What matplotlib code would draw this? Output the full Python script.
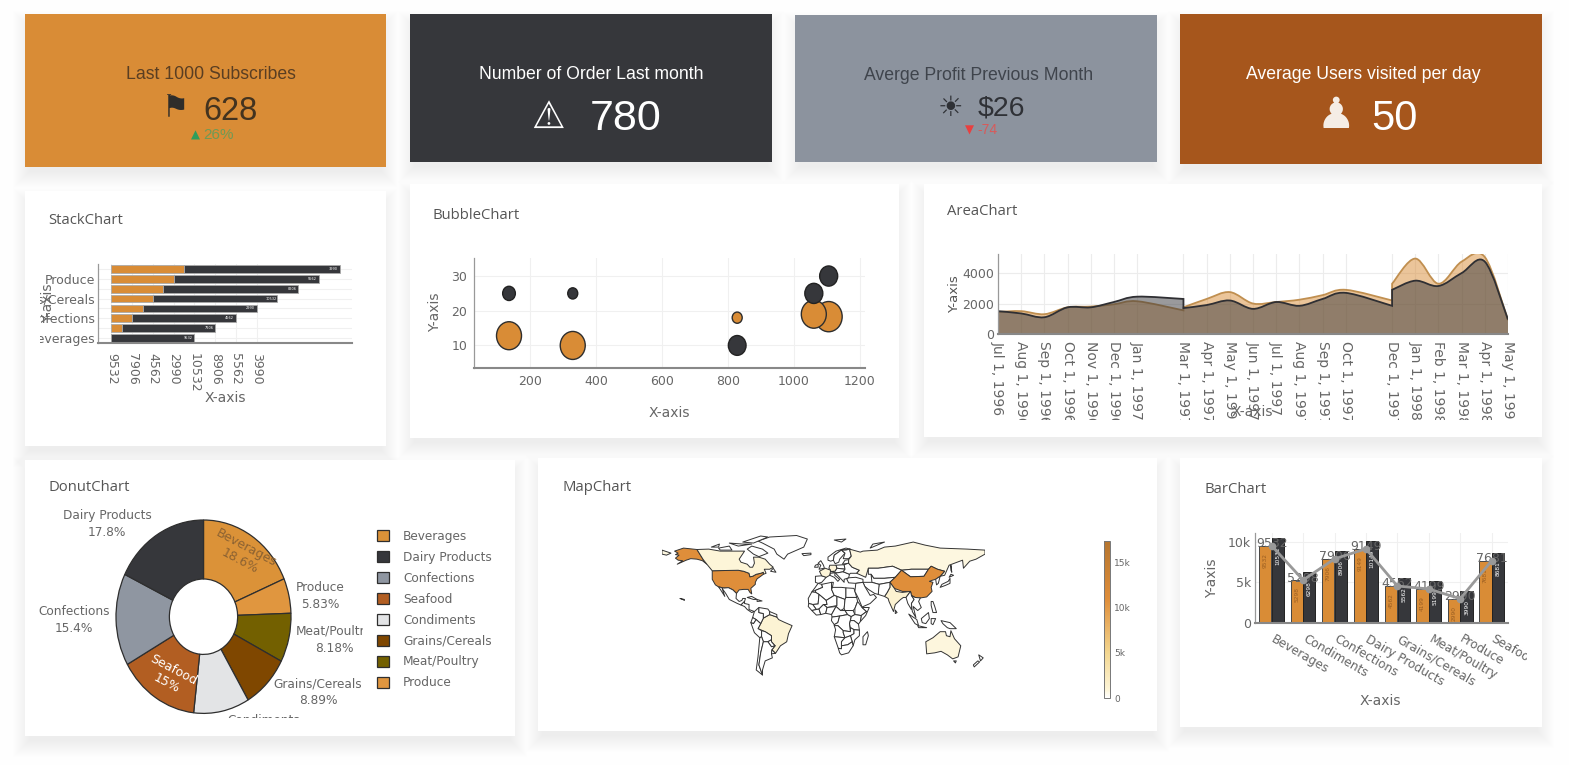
#!/usr/bin/python
import numpy as np
from matplotlib import pyplot as plt
from matplotlib.collections import PolyCollection
from matplotlib.colors import LinearSegmentedColormap, Normalize
from matplotlib.markers import MarkerStyle
from matplotlib.patches import PathPatch, Rectangle
from matplotlib.path import Path
from matplotlib.transforms import Affine2D, Bbox, ScaledTranslation

W, H = 1569, 765
ORANGE = '#D98C36'
DARK = '#36373B'
GRAY = '#8C939E'
RUST = '#A6561C'
TXT = '#666666'

plt.rcParams['font.family'] = ['DejaVu Sans']

#Stack chart
stack_categories = ['Beverages', '', 'Confections', '', 'Grains/Cereals', '', 'Produce', '']
stack_tick_labels = ['9532', '7906', '4562', '2990', '10532', '8906', '5562', '3990']
stack_orange = [0, 0.5, 1, 1.5, 2, 2.5, 3, 3.5]
stack_dark = [4, 4.5, 5, 5.5, 6, 6.5, 7, 7.5]

#Bubble chart
bubble_x = [137, 330, 828, 1105, 1060]
bubble_orange_y = [12.8, 10, 18, 18.3, 19]
bubble_orange_d = [25, 25, 10, 27, 25]
bubble_dark_y = [25, 25, 10, 30, 25]
bubble_dark_d = [12.7, 10, 17.7, 18, 18]

#Area chart, a repeated month is a step in the series
area_months = ['Jul 1, 1996', 'Aug 1, 1996', 'Sep 1, 1996', 'Oct 1, 1996', 'Nov 1, 1996', 'Dec 1, 1996',
               'Jan 1, 1997', '', 'Mar 1, 1997', 'Apr 1, 1997', 'May 1, 1997', 'Jun 1, 1997', 'Jul 1, 1997',
               'Aug 1, 1997', 'Sep 1, 1997', 'Oct 1, 1997', '', 'Dec 1, 1997', 'Jan 1, 1998', 'Feb 1, 1998',
               'Mar 1, 1998', 'Apr 1, 1998', 'May 1, 1998']
area_x = [0, 1, 2, 3, 4, 5, 6, 8, 8, 9, 10, 11, 12, 13, 14, 15, 17, 17, 18, 19, 20, 21, 22]
area_orange = [1450, 1500, 1300, 1750, 1800, 1950, 2150, 1550, 1750, 2300, 2750, 2000, 2100, 2250, 2550, 2900,
               2200, 3300, 4950, 3300, 4750, 5050, 900]
area_dark = [1500, 1350, 1100, 1750, 1750, 2100, 2450, 2300, 1700, 1900, 2200, 1650, 2100, 1850, 2300, 2700,
             1850, 2900, 3500, 3150, 4000, 4750, 950]

#Donut chart
donut_labels = ['Beverages', 'Produce', 'Meat/Poultry', 'Grains/Cereals', 'Condiments', 'Seafood', 'Confections',
                'Dairy Products']
donut_values = [18.6, 5.83, 8.18, 8.89, 10.3, 15.0, 15.4, 17.8]
donut_colors = ['#DB9238', '#E0963F', '#736000', '#7F4700', '#E3E4E6', '#B25E22', '#8F96A1', '#36373B']
legend_order = ['Beverages', 'Dairy Products', 'Confections', 'Seafood', 'Condiments', 'Grains/Cereals',
                'Meat/Poultry', 'Produce']

#Bar chart
bar_categories = ['Beverages', 'Condiments', 'Confections', 'Dairy Products', 'Grains/Cereals', 'Meat/Poultry',
                  'Produce', 'Seafood']
bar_orange = [9532, 5298, 7906, 9149, 4562, 4199, 2990, 7681]
bar_dark = [10532, 6298, 8906, 10149, 5562, 5199, 3990, 8681]

#Map chart, rough outlines in lon/lat
map_values = {'USA': 11000, 'Alaska': 11000, 'China': 11000, 'Canada': 900, 'Russia': 700, 'Chukotka': 700,
              'Brazil': 1100, 'Australia': 800, 'India': 1300, 'France': 900, 'Germany': 1000}
map_shapes = {
    'USA': [(-124, 48.5), (-95, 49), (-89, 48), (-83, 46), (-82, 42.5), (-79, 43), (-75, 45), (-70, 46), (-67, 47),
            (-67, 45), (-70, 43), (-74, 40.5), (-76, 37), (-76, 35), (-81, 31), (-80, 25.5), (-82, 27), (-84, 30),
            (-89, 30), (-94, 29.5), (-97, 26), (-101, 29.5), (-106, 31.7), (-111, 31.3), (-117, 32.5),
            (-120.5, 34.5), (-124, 40)],
    'Alaska': [(-141, 69.6), (-156, 71), (-166, 68), (-162, 66), (-165, 64.5), (-161, 64), (-165, 61), (-162, 59),
               (-157, 58.5), (-163, 55), (-153, 59), (-148, 60.5), (-141, 60), (-135, 58.5), (-130, 55),
               (-134, 59.5)],
    'Canada': [(-141, 69.6), (-128, 70), (-115, 68), (-95, 68), (-88, 68), (-94, 60), (-92, 57), (-85, 55), (-82, 52),
               (-79, 52), (-77, 56), (-78, 62), (-72, 62), (-65, 60), (-60, 55), (-56, 52), (-60, 50), (-66, 50),
               (-64, 46), (-67, 45), (-67, 47), (-70, 46), (-75, 45), (-79, 43), (-82, 42.5), (-83, 46), (-89, 48),
               (-95, 49), (-124, 48.5), (-130, 55), (-134, 59.5)],
    'Greenland': [(-73, 78), (-60, 82), (-30, 83.5), (-18, 80), (-22, 72), (-40, 65), (-44, 60), (-52, 65), (-55, 70),
                  (-68, 76)],
    'Baffin': [(-80, 73), (-68, 70), (-62, 66), (-72, 62.5), (-78, 65), (-85, 70)],
    'Victoria': [(-117, 71), (-105, 73), (-102, 69), (-115, 69)],
    'Ellesmere': [(-90, 77), (-70, 83), (-62, 82), (-78, 76)],
    'Banks': [(-125, 72), (-116, 75), (-117, 72)],
    'Devon': [(-105, 76), (-90, 75), (-80, 75), (-95, 73)],
    'Newfoundland': [(-59, 48), (-53, 47), (-56, 51)],
    'Hawaii': [(-160, 21), (-155, 20), (-155, 19), (-157, 20)],
    'Mexico': [(-117, 32.5), (-111, 31.3), (-106, 31.7), (-101, 29.5), (-97, 26), (-97.5, 21), (-94, 18), (-91, 19),
               (-90, 21), (-87, 21), (-88, 18), (-92, 14.5), (-96, 16), (-105, 20), (-109, 26), (-113, 31), (-110, 23),
               (-115, 30)],
    'Central': [(-92, 14.5), (-88, 18), (-88, 16), (-83, 15), (-83, 10), (-77, 8), (-80, 7), (-85, 10), (-88, 13)],
    'Cuba': [(-85, 22), (-80, 23), (-74, 20), (-78, 20)],
    'Hispaniola': [(-74, 20), (-68.5, 18.5), (-74, 18)],
    'Brazil': [(-60, 5), (-52, 2.5), (-50, 0), (-44, -2.5), (-35, -6), (-39, -14), (-41, -22), (-48, -26),
               (-53.5, -33.5), (-57.5, -30), (-54, -26), (-58, -22), (-58, -16), (-65, -12), (-73, -9), (-70, -4),
               (-67, 1.5)],
    'Colombia': [(-77, 8), (-72, 12), (-72, 7), (-67, 6), (-67, 1.5), (-70, -4), (-75, 0), (-79, 2)],
    'Venezuela': [(-72, 12), (-62, 10.5), (-60, 8), (-60, 5), (-67, 1.5), (-67, 6), (-72, 7)],
    'Guyanas': [(-60, 8), (-52, 5), (-52, 2.5), (-60, 5)],
    'Ecuador': [(-79, 2), (-75, 0), (-78, -4), (-81, -3)],
    'Peru': [(-81, -3), (-78, -4), (-75, 0), (-70, -4), (-73, -9), (-69, -11), (-69, -17), (-71, -18), (-77, -13)],
    'Bolivia': [(-69, -11), (-65, -12), (-58, -16), (-58, -20), (-62, -22), (-67, -22), (-69, -17)],
    'Paraguay': [(-62, -22), (-58, -20), (-58, -22), (-54, -26), (-58, -27)],
    'Chile': [(-71, -18), (-69, -17), (-67, -22), (-70, -33), (-72, -45), (-68, -55), (-75, -50), (-73, -37)],
    'Argentina': [(-67, -22), (-62, -22), (-58, -27), (-54, -26), (-57.5, -30), (-58, -34), (-57, -38), (-65, -41),
                  (-68, -50), (-68, -55), (-72, -45), (-70, -33)],
    'Uruguay': [(-57.5, -30), (-53.5, -33.5), (-58, -34)],
    'Morocco': [(-6, 36), (-2, 35), (-1, 32), (-9, 29), (-13, 27.5), (-10, 31)],
    'Algeria': [(-2, 35), (9, 37), (9, 30), (12, 24), (3, 19), (-5, 25), (-8.7, 27), (-9, 29), (-1, 32)],
    'Tunisia': [(9, 37), (11, 37), (10, 32), (9, 30)],
    'Libya': [(10, 32), (20, 32), (25, 31.5), (25, 20), (24, 20), (15, 23), (12, 24), (9, 30)],
    'Egypt': [(25, 31.5), (34, 31), (37, 22), (25, 22)],
    'Mauritania': [(-17, 21), (-13, 27.5), (-8.7, 27), (-5, 25), (-6, 15.5), (-12, 15), (-16.5, 16)],
    'Mali': [(-5, 25), (3, 19), (4, 15), (0, 15), (-5, 10.5), (-8, 10), (-12, 15), (-6, 15.5)],
    'Niger': [(3, 19), (12, 24), (15, 23), (15, 14), (4, 12), (0, 15), (4, 15)],
    'Chad': [(15, 23), (24, 20), (23, 11), (19, 9), (14, 13), (15, 14)],
    'Sudan': [(24, 20), (25, 22), (37, 22), (38, 18), (35, 11), (33, 9), (24, 9), (23, 11)],
    'Senegal': [(-16.5, 16), (-12, 15), (-8, 10), (-13, 9), (-17, 13)],
    'Ivory': [(-13, 9), (-8, 10), (-5, 10.5), (-3, 5), (-8, 4.5)],
    'Ghana': [(-5, 10.5), (0, 15), (4, 12), (2.5, 6.3), (-3, 5)],
    'Nigeria': [(4, 12), (14, 13), (9, 5), (2.5, 6.3)],
    'Cameroon': [(14, 13), (19, 9), (24, 9), (27, 5), (18, 3.5), (9.5, 2.5), (9, 5)],
    'Gabon': [(9.5, 2.5), (18, 3.5), (16, -3), (12, -5), (8.8, -1)],
    'DRC': [(18, 3.5), (27, 5), (31, 3), (29, -4), (30, -12), (22, -11), (16, -6), (12, -6), (12, -5), (16, -3)],
    'Ethiopia': [(35, 11), (38, 18), (43, 12), (48, 8), (42, 4), (35, 5)],
    'Somalia': [(43, 12), (51, 12), (47, 4), (41, -2), (42, 4), (48, 8)],
    'SSudan': [(24, 9), (33, 9), (35, 5), (31, 3), (27, 5)],
    'Kenya': [(31, 3), (35, 5), (42, 4), (41, -2), (39, -4.5), (34, -1), (30, -1)],
    'Tanzania': [(30, -1), (34, -1), (39, -4.5), (40, -10.5), (34, -10), (30, -8), (29, -4)],
    'Angola': [(12, -6), (16, -6), (22, -11), (22, -13), (24, -18), (12, -17), (13.5, -10)],
    'Zambia': [(22, -11), (30, -12), (30, -8), (34, -10), (34, -14), (30, -16), (24, -18), (22, -13)],
    'Mozambique': [(40, -10.5), (40, -16), (35, -20), (33, -26), (32, -22), (30, -16), (34, -14), (34, -10)],
    'Namibia': [(12, -17), (24, -18), (20, -22), (20, -29), (16.5, -28.5)],
    'Botswana': [(24, -18), (30, -16), (32, -22), (27, -25), (20, -26), (20, -22)],
    'SAfrica': [(16.5, -28.5), (20, -29), (20, -26), (27, -25), (32, -22), (33, -26), (28, -33), (20, -35), (18, -33)],
    'Madagascar': [(49, -12), (50, -16), (47, -25), (44, -25), (44, -17)],
    'Iberia': [(-9, 43), (-2, 43.5), (3, 42), (0, 39), (-2, 37), (-6, 36), (-9, 37)],
    'France': [(-2, 43.5), (-4.5, 48), (2, 51), (8, 49), (7, 44), (3, 42)],
    'Germany': [(6, 51), (7, 54), (14, 54), (15, 51), (13, 48), (8, 47.7), (8, 49)],
    'Italy': [(7, 44), (8, 46), (13, 46.5), (12.5, 44), (18, 40), (16, 38), (12, 42)],
    'UK': [(-5, 50), (1, 51), (0, 54), (-3, 58.5), (-6, 56), (-3, 54)],
    'Ireland': [(-10, 52), (-6, 52), (-6, 55), (-9, 54)],
    'Norway': [(5, 59), (8, 58), (11, 59), (12, 64), (20, 69), (30, 70), (25, 71), (14, 68), (5, 62)],
    'Sweden': [(11, 59), (13, 55.5), (17, 57), (18, 60), (24, 66), (20, 69), (12, 64)],
    'Finland': [(24, 66), (22, 60.5), (28, 60.5), (31, 63), (29, 70), (25, 69), (20, 69)],
    'Iceland': [(-24, 65.5), (-14, 66), (-14, 64.5), (-22, 63.5)],
    'Poland': [(14, 54), (23, 54.5), (24, 50), (15, 51)],
    'Austria': [(8, 47.7), (13, 48), (15, 51), (24, 50), (22, 47.5), (16, 46.5), (13, 46.5)],
    'Balkans': [(13, 46.5), (16, 46.5), (22, 47.5), (29, 45), (28, 41.5), (23, 40), (23, 37), (20, 40)],
    'Ukraine': [(24, 50), (23, 54.5), (28, 56), (32, 52), (40, 49), (37, 46), (30, 46), (29, 45), (22, 47.5)],
    'Baltics': [(21, 55), (28, 56), (28, 59.5), (24, 59)],
    'Turkey': [(26, 40), (28, 41.5), (36, 42), (44, 40), (44, 37), (36, 36), (28, 36.5)],
    'Russia': [(28, 56), (28, 59.5), (31, 63), (29, 70), (41, 67), (44, 68), (60, 69), (68, 72), (80, 73), (100, 77),
               (113, 74), (130, 71), (160, 70), (180, 69), (180, 65), (170, 60), (163, 58), (156, 51), (155, 59),
               (140, 54), (135, 44), (130, 43), (135, 48), (127, 50), (120, 53), (117, 50), (107, 50), (98, 50),
               (87, 49), (77, 53), (61, 51), (50, 51), (47, 42), (37, 46), (40, 49), (32, 52)],
    'Chukotka': [(-180, 69), (-170, 66), (-175, 64), (-180, 65)],
    'Kazakhstan': [(50, 51), (61, 51), (77, 53), (87, 49), (80, 42), (68, 41), (56, 41), (53, 45), (50, 45)],
    'CentralAsia': [(53, 45), (56, 41), (68, 41), (80, 42), (74, 37), (62, 35), (54, 37)],
    'Mongolia': [(87, 49), (98, 50), (107, 50), (117, 50), (112, 43), (97, 42.5)],
    'China': [(80, 42), (87, 49), (97, 42.5), (112, 43), (117, 50), (120, 53), (127, 50), (135, 48), (130, 43),
              (125, 40), (121, 39), (118, 38), (122, 37), (120, 32), (121, 28), (115, 22.5), (108, 21.5), (102, 22),
              (98, 24), (97, 28), (88, 28), (79, 31), (74, 37)],
    'India': [(74, 37), (79, 31), (81, 28), (88, 27), (97, 28), (92, 22), (89, 22), (86, 20), (80, 15), (78, 8),
              (73, 18), (72, 21), (68, 23), (71, 27), (74, 32)],
    'Pakistan': [(62, 35), (74, 37), (74, 32), (71, 27), (68, 23), (61, 25), (61, 30)],
    'Iran': [(44, 37), (54, 37), (62, 35), (61, 25), (57, 26), (50, 30), (46, 33)],
    'Arabia': [(36, 36), (44, 37), (46, 33), (48, 30), (52, 24), (56, 25), (59, 22), (52, 16), (43, 12.5), (39, 21),
               (35, 28)],
    'Myanmar': [(92, 22), (97, 28), (98, 24), (101, 20), (98, 16), (98, 10), (94, 16)],
    'Indochina': [(98, 24), (102, 22), (108, 21.5), (106, 18), (109, 12), (105, 9), (100, 13), (103, 2), (99, 8),
                  (98, 16), (101, 20)],
    'Korea': [(125, 40), (130, 43), (128, 36), (126, 34.5)],
    'Japan': [(130, 32), (136, 34), (141, 36), (141, 41), (139, 38), (132, 35)],
    'Hokkaido': [(140, 42), (145, 44), (142, 45)],
    'Sakhalin': [(142, 54), (143, 47), (142, 49)],
    'Philippines': [(120, 18), (122, 18), (124, 13), (126, 7), (122, 7), (120, 14)],
    'Sumatra': [(95, 5.5), (104, 0), (106, -6), (102, -4)],
    'Java': [(105, -6), (115, -8), (106, -8)],
    'Borneo': [(109, 1), (117, 7), (118, 1), (114, -4), (110, -3)],
    'Sulawesi': [(120, 1), (125, 1), (122, -5), (120, -4)],
    'NewGuinea': [(131, -1), (141, -3), (148, -9), (141, -9), (138, -8), (133, -4)],
    'Australia': [(114, -22), (122, -18), (130, -12), (136, -12), (137, -16), (141, -17), (142, -11), (146, -19),
                  (153, -26), (150, -37), (144, -39), (138, -35), (131, -31.5), (124, -33), (115, -34)],
    'Tasmania': [(145, -41), (148, -41), (147, -43)],
    'NZNorth': [(173, -35), (178, -38), (175, -41)],
    'NZSouth': [(172, -41), (174, -42), (168, -47), (167, -45)],
    'SriLanka': [(80, 9.5), (82, 7), (80, 6)],
    'Svalbard': [(12, 79), (25, 80), (20, 77)],
    'Novaya': [(52, 71), (68, 77), (55, 75)],
}


#Methods
def place(x0, y0, x1, y1, **kw):
    ax = fig.add_axes([x0 / W, 1 - y1 / H, (x1 - x0) / W, (y1 - y0) / H], **kw)
    ax.set_facecolor('none')
    return ax


def clip_to(text, x0, y0, x1, y1):
    text.set_clip_box(Bbox([[x0, H - y1], [x1, H - y0]]))
    text.set_clip_on(True)


def card(x0, y0, x1, y1, color):
    for grow in range(-4, 13):
        bg.add_patch(Rectangle((x0 - grow, y0 - grow + 9), x1 - x0 + 2 * grow, y1 - y0 + 2 * grow, color='#50505a',
                               alpha=0.0045, lw=0))
    bg.add_patch(Rectangle((x0, y0), x1 - x0, y1 - y0, color=color, lw=0))


def style_axes(ax, lw=1.5):
    for side in ['top', 'right']:
        ax.spines[side].set_visible(False)
    ax.spines['left'].set_color('#999999')
    ax.spines['bottom'].set_color('#888888')
    ax.spines['left'].set_linewidth(0.9)
    ax.spines['bottom'].set_linewidth(lw)
    ax.grid(True, color='#f0f0f0', lw=0.8)
    ax.set_axisbelow(True)
    ax.tick_params(length=0, labelcolor=TXT, labelsize=9)


def smooth_path(x, y):
    pts = np.column_stack([x, y]).astype(float)
    verts = [pts[0]]
    codes = [Path.MOVETO]
    for i in range(len(pts) - 1):
        p1, p2 = pts[i], pts[i + 1]
        if p1[0] == p2[0]:
            verts.append(p2)
            codes.append(Path.LINETO)
            continue
        p0 = pts[i - 1] if i > 0 and pts[i - 1][0] != p1[0] else p1
        p3 = pts[i + 2] if i + 2 < len(pts) and pts[i + 2][0] != p2[0] else p2
        verts += [p1 + (p2 - p0) / 6, p2 - (p3 - p1) / 6, p2]
        codes += [Path.CURVE4] * 3
    return verts, codes


def draw_area(ax, x, y, color, edge):
    verts, codes = smooth_path(x, y)
    fill = Path(verts + [(x[-1], 0), (x[0], 0), verts[0]], codes + [Path.LINETO, Path.LINETO, Path.LINETO])
    ax.add_patch(PathPatch(fill, facecolor=color, alpha=0.5, lw=0))
    ax.add_patch(PathPatch(Path(verts, codes), fill=False, edgecolor=edge, lw=1.3))


#Main
fig = plt.figure(figsize=(W / 100, H / 100), dpi=100, facecolor='#fefefe')
bg = fig.add_axes([0, 0, 1, 1])
bg.set_xlim(0, W)
bg.set_ylim(H, 0)
bg.axis('off')

card(25, 14, 386, 167, ORANGE)
card(410, 14, 772, 162, DARK)
card(795, 15, 1157, 162, GRAY)
card(1180, 14, 1542, 164, RUST)
card(25, 191, 386, 446, 'white')
card(410, 184, 899, 438, 'white')
card(924, 184, 1542, 437, 'white')
card(25, 460, 515, 736, 'white')
card(538, 458, 1157, 731, 'white')
card(1180, 458, 1542, 727, 'white')

#KPI cards
kpi = ['Liberation Sans']
bg.text(210.5, 74, 'Last 1000 Subscribes', ha='center', va='center', family=kpi, fontsize=12.7, color='#5A3E22')
bg.text(176, 109, '\u2691', ha='center', va='center', fontsize=22, color='#2F2D2A')
bg.text(230.5, 111, '628', ha='center', va='center', family=kpi, fontsize=23.5, color='#43331f')
bg.text(195, 135, '\u25b2', ha='center', va='center', fontsize=8.5, color='#2E9E5B')
bg.text(218, 135, '26%', ha='center', va='center', family=kpi, fontsize=11, color='#6F9A55')

bg.text(591, 74, 'Number of Order Last month', ha='center', va='center', family=kpi, fontsize=12.7, color='white')
bg.text(548, 118, '\u26a0', ha='center', va='center', fontsize=27, fontweight='bold', color='white')
bg.text(626, 119, '780', ha='center', va='center', family=kpi, fontsize=31, color='white')

bg.text(978.5, 75, 'Averge Profit Previous Month', ha='center', va='center', family=kpi, fontsize=12.7,
        color='#3F444C')
bg.text(950, 108, '\u2600', ha='center', va='center', fontsize=20.5, color='#2F3136')
bg.text(1001, 108, '$26', ha='center', va='center', family=kpi, fontsize=20.5, color='#2F3136')
bg.text(969, 130, '\u25bc', ha='center', va='center', fontsize=8.5, color='#E84040')
bg.text(987, 130, '-74', ha='center', va='center', family=kpi, fontsize=10, color='#D85A5A')

bg.text(1363.5, 74, 'Average Users visited per day', ha='center', va='center', family=kpi, fontsize=12.7,
        color='white')
bg.text(1336, 116, '\u265f', ha='center', va='center', fontsize=31, color='#F5EDE5')
bg.text(1394, 119, '50', ha='center', va='center', family=kpi, fontsize=30, color='white')

#Card titles
for x, y, title in [(48, 220, 'StackChart'), (433, 215, 'BubbleChart'), (947, 211, 'AreaChart'),
                    (48, 487, 'DonutChart'), (562, 487, 'MapChart'), (1204, 489, 'BarChart')]:
    bg.text(x, y, title, va='center', family=['Open Sans'], fontsize=10.7, color='#555555')

#StackChart
ax = place(98, 264, 352, 343)
ypos = np.arange(len(stack_categories))
ax.barh(ypos, stack_orange, height=0.78, color=ORANGE, edgecolor='#aaaaaa', lw=0.6)
ax.barh(ypos, stack_dark, left=stack_orange, height=0.78, color=DARK, edgecolor='#aaaaaa', lw=0.6)
for i in ypos:
    ax.text(stack_orange[i] + stack_dark[i] - 0.3, i, stack_tick_labels[i], ha='center', va='center', fontsize=2.5,
            color='white')
ax.set_xlim(-0.65, 11.6)
ax.set_ylim(-0.5, 7.5)
style_axes(ax)
ax.set_xticks(range(len(stack_tick_labels)), stack_tick_labels, rotation=-90)
ax.set_yticks(ypos, stack_categories)
ax.tick_params(axis='x', pad=7)
ax.tick_params(axis='y', pad=2)
for t in ax.get_yticklabels():
    clip_to(t, 40, 260, 100, 350)
bg.text(225, 398, 'X-axis', ha='center', va='center', fontsize=10, color=TXT)
bg.text(48, 303, 'Y-axis', ha='center', va='center', rotation=90, fontsize=10, color=TXT)

#BubbleChart
ax = place(474, 258, 865, 368)
oval = MarkerStyle('o', transform=Affine2D().scale(1, 1.12))
ax.scatter(bubble_x, bubble_orange_y, s=(np.array(bubble_orange_d) * 0.72) ** 2, marker=oval, color=ORANGE,
           edgecolor='#2e2e2e', lw=1, zorder=3)
ax.scatter(bubble_x, bubble_dark_y, s=(np.array(bubble_dark_d) * 0.72) ** 2, marker=oval, color=DARK,
           edgecolor='#222222', lw=1, zorder=4)
ax.set_xlim(31, 1215)
ax.set_ylim(3.5, 35.2)
style_axes(ax)
ax.set_xticks([200, 400, 600, 800, 1000, 1200])
ax.set_yticks([10, 20, 30])
ax.tick_params(axis='x', pad=5)
ax.tick_params(axis='y', pad=5)
bg.text(669, 413, 'X-axis', ha='center', va='center', fontsize=10, color=TXT)
bg.text(435, 312, 'Y-axis', ha='center', va='center', rotation=90, fontsize=10, color=TXT)

#AreaChart
ax = place(998, 254, 1508, 334)
draw_area(ax, area_x, area_orange, '#D98C36', '#C08F50')
draw_area(ax, area_x, area_dark, DARK, '#2f2f33')
ax.set_xlim(0, 22)
ax.set_ylim(0, 5250)
style_axes(ax)
tick_pos = [i for i, m in enumerate(area_months) if m]
ax.set_xticks(tick_pos, [area_months[i] for i in tick_pos], rotation=-90)
ax.set_yticks([0, 2000, 4000], ['0', '2000', '4000'])
ax.tick_params(axis='x', pad=5, labelsize=10)
ax.tick_params(axis='y', pad=3)
ax.grid(True, color='#ececec', lw=0.8)
for t in ax.get_xticklabels():
    clip_to(t, 980, 335, 1520, 420)
fig.text(1252 / W, 1 - 412 / H, 'X-axis', ha='center', va='center', fontsize=10, color=TXT, zorder=5)
bg.text(955, 294, 'Y-axis', ha='center', va='center', rotation=90, fontsize=9.5, color='#555555')

#DonutChart
cx, cy, rx, ry = 203.5, 616.7, 87.5, 96.7
ax = place(cx - 1.1 * rx, cy - 1.1 * ry, cx + 1.1 * rx, cy + 1.1 * ry)
wedges = ax.pie(donut_values, colors=donut_colors, startangle=90, counterclock=False, radius=1,
                wedgeprops=dict(width=0.61, edgecolor='#2e2e2e', lw=0.9))[0]
ax.set_aspect('auto')
ax.set_xlim(-1.1, 1.1)
ax.set_ylim(-1.1, 1.1)
handles = [wedges[donut_labels.index(name)] for name in legend_order]
bg.legend(handles, legend_order, loc='upper left', bbox_to_anchor=(373, 526), bbox_transform=bg.transData,
          frameon=False, fontsize=8.7, handlelength=1.05, handleheight=1.05, handletextpad=1.15, labelspacing=0.66,
          labelcolor=TXT, borderpad=0, borderaxespad=0.3)
for x, y, label in [(107, 524, 'Dairy Products\n17.8%'), (74, 620, 'Confections\n15.4%'),
                    (320, 596, 'Produce\n5.83%'), (318, 692, 'Grains/Cereals\n8.89%')]:
    bg.text(x, y, label, ha='center', va='center', fontsize=8.7, color=TXT, linespacing=1.35)
t = bg.text(296, 631, 'Meat/Poultry', va='center', fontsize=8.7, color=TXT)
clip_to(t, 290, 620, 363, 645)
bg.text(334, 648, '8.18%', ha='center', va='center', fontsize=8.7, color=TXT)
t = bg.text(264, 721, 'Condiments', ha='center', va='center', fontsize=8.7, color=TXT)
clip_to(t, 220, 705, 310, 718)
fig.text(243 / W, 1 - 555 / H, 'Beverages\n18.6%', ha='center', va='center', rotation=-28, fontsize=9,
         color='#8C6232', linespacing=1.2, zorder=5)
fig.text(170 / W, 1 - 677 / H, 'Seafood\n15%', ha='center', va='center', rotation=-28, fontsize=9, color='white',
         linespacing=1.2, zorder=5)

#MapChart
ax = place(662, 535, 985, 676)
ax.axis('off')
map_cmap = LinearSegmentedColormap.from_list('map', [(0, '#ffffff'), (0.05, '#FDF5D8'), (0.29, '#F3D68F'),
                                                     (0.63, '#DF8E3A'), (1, '#B5752F')])
map_norm = Normalize(0, 17400)
names = list(map_shapes)
polys = PolyCollection([map_shapes[n] for n in names], array=[map_values.get(n, 0) for n in names], cmap=map_cmap,
                       norm=map_norm, edgecolors='#333333', linewidths=0.7)
ax.add_collection(polys)
ax.set_xlim(-180, 180)
ax.set_ylim(-56, 84)
cax = place(1104, 541, 1110, 698)
cbar = fig.colorbar(polys, cax=cax, ticks=[0, 5000, 10000, 15000])
cbar.ax.set_yticklabels(['0', '5k', '10k', '15k'], fontsize=6.5, color=TXT)
cbar.ax.tick_params(length=0, pad=3)
cbar.outline.set_edgecolor('#777777')
cbar.outline.set_linewidth(0.7)

#BarChart
ax = place(1255, 533, 1508, 623)
bx = np.arange(len(bar_categories))
ax.bar(bx - 0.2, bar_orange, width=0.39, color=ORANGE, edgecolor='#444444', lw=0.7)
ax.bar(bx + 0.2, bar_dark, width=0.39, color=DARK, edgecolor='#222222', lw=0.7)
for i in bx:
    ax.text(i - 0.2, bar_orange[i] - 900, bar_orange[i], rotation=90, ha='center', va='top', fontsize=4.2,
            color='#9A5E22')
    ax.text(i + 0.2, bar_dark[i] - 1100, bar_dark[i], rotation=90, ha='center', va='top', fontsize=4.2, color='white')
for i in bx:
    ax.text(i, bar_orange[i] + 250, bar_orange[i], ha='center', va='center', fontsize=9, color=TXT, zorder=5)
ax.plot(bx, bar_orange, '-o', color='#999999', lw=2, ms=4.5, zorder=6)
ax.set_xlim(-0.53, 7.52)
ax.set_ylim(0, 11100)
style_axes(ax)
ax.set_xticks(bx, bar_categories, rotation=-30, ha='left', rotation_mode='anchor')
ax.set_yticks([0, 5000, 10000], ['0', '5k', '10k'])
ax.tick_params(axis='x', pad=7, labelsize=8.7)
ax.tick_params(axis='y', pad=3)
shift = ScaledTranslation(4 / 100, 0, fig.dpi_scale_trans)
for t in ax.get_xticklabels():
    t.set_transform(t.get_transform() + shift)
    clip_to(t, 1260, 625, 1527, 690)
bg.text(1380, 701, 'X-axis', ha='center', va='center', fontsize=10, color=TXT)
bg.text(1212, 578, 'Y-axis', ha='center', va='center', rotation=90, fontsize=10, color=TXT)

plt.savefig('out.png', dpi=100)
